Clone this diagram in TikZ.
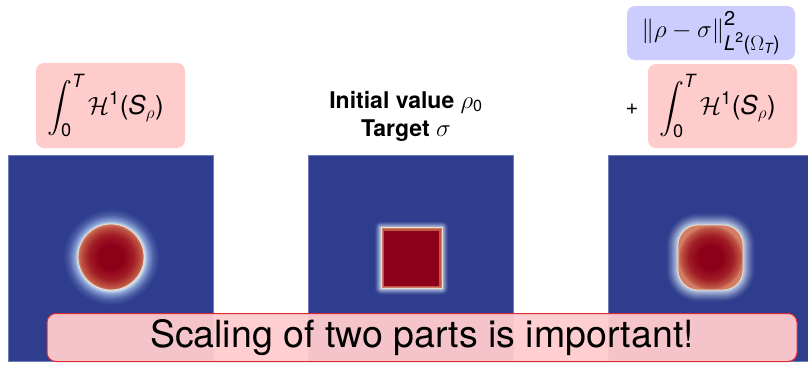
\documentclass[tikz,border=0pt]{standalone}
\usepackage{amsmath}
\usepackage{fontspec}
\setmainfont{TeX Gyre Heros}
\usetikzlibrary{calc}
\definecolor{panelblue}{RGB}{47,61,142}
\definecolor{paneledge}{RGB}{110,125,185}
\definecolor{deepred}{RGB}{140,0,24}
\definecolor{midred}{RGB}{160,28,38}
\definecolor{edgered}{RGB}{190,85,68}
\definecolor{edgered2}{RGB}{210,125,100}
\definecolor{rimwhite}{RGB}{232,222,205}
\definecolor{glowlight}{RGB}{208,220,238}
\definecolor{glowmid}{RGB}{135,160,212}
\definecolor{glowdark}{RGB}{75,92,165}
\definecolor{pinkbox}{RGB}{255,204,204}
\definecolor{bluebox}{RGB}{204,204,255}
\definecolor{bannerred}{RGB}{225,40,50}
\definecolor{bannerfill}{RGB}{255,204,206}
% path edge corresponds to 25bp
\pgfdeclareradialshading{glowshade}{\pgfpoint{0bp}{0bp}}{color(0bp)=(glowlight); color(17.5bp)=(glowlight); color(19bp)=(glowmid); color(22bp)=(glowdark); color(25bp)=(panelblue); color(50bp)=(panelblue)}
\pgfdeclareradialshading{redball}{\pgfpoint{0bp}{0bp}}{color(0bp)=(deepred); color(9bp)=(deepred); color(17bp)=(midred); color(23bp)=(edgered); color(25bp)=(edgered2); color(50bp)=(edgered2)}
\tikzset{
  panel/.style={fill=panelblue, draw=paneledge, line width=0.5pt},
  mathbox/.style={rounded corners=8pt, inner sep=0pt, font=\fontsize{26}{30}\selectfont},
  headtext/.style={align=center, font=\bfseries\fontsize{23}{28}\selectfont},
  banner/.style={draw=bannerred, line width=1pt, fill=bannerfill, fill opacity=0.95, text opacity=1,
    rounded corners=9pt, minimum width=750pt, minimum height=48pt, font=\fontsize{37.5}{42}\selectfont},
  rim/.style={draw=rimwhite, line width=0.8pt}
}
\newcommand{\hterm}{$\displaystyle\int_{\text{0}}^{\textit{T}}\mathcal{H}^{\text{1}}\text{(}\textit{S}_{\rho}\text{)}$\hspace*{10pt}}
\newcommand{\subsz}{\fontsize{20}{22}\selectfont}
\begin{document}
\begin{tikzpicture}[x=1pt,y=-1pt]
\useasboundingbox (0,0) rectangle (808,364);
\fill[white] (0,0) rectangle (808,364);
% panels
\path[panel] (8,155) rectangle (213,361);
\path[panel] (308,155) rectangle (513,361);
\path[panel] (608,155) rectangle (812,361);
% left: circle
\coordinate (cL) at (111,257);
\shade[shading=glowshade] (cL) circle (48);
\shade[shading=redball] (cL) circle (33);
\draw[rim] (cL) circle (33);
% middle: square
\coordinate (cM) at (411.5,258);
\foreach \d in {7,6,...,1}{
  \pgfmathtruncatemacro\p{100*((7-\d)/7)^1.3}
  \fill[glowlight!\p!panelblue, rounded corners=\d pt] ($(cM)+(-30.5-\d,-30.5-\d)$) rectangle ($(cM)+(30.5+\d,30.5+\d)$);
}
\fill[rimwhite] ($(cM)+(-31,-31)$) rectangle ($(cM)+(31,31)$);
\fill[edgered2] ($(cM)+(-30,-30)$) rectangle ($(cM)+(30,30)$);
\fill[edgered] ($(cM)+(-29,-29)$) rectangle ($(cM)+(29,29)$);
\fill[deepred] ($(cM)+(-27.5,-27.5)$) rectangle ($(cM)+(27.5,27.5)$);
% right: rounded square
\coordinate (cR) at (710.5,257.5);
\foreach \d in {13,12,...,1}{
  \pgfmathtruncatemacro\p{100*((13-\d)/13)^1.4}
  \pgfmathsetmacro\rr{20+\d}
  \fill[glowlight!\p!panelblue, rounded corners=\rr pt] ($(cR)+(-32.5-\d,-32.5-\d)$) rectangle ($(cR)+(32.5+\d,32.5+\d)$);
}
\shade[shading=redball, rounded corners=20pt] ($(cR)+(-32.5,-32.5)$) rectangle ($(cR)+(32.5,32.5)$);
\draw[rim, rounded corners=20pt] ($(cR)+(-32.5,-32.5)$) rectangle ($(cR)+(32.5,32.5)$);
% labels
\node[mathbox, fill=pinkbox, minimum width=149pt, minimum height=85pt] (hL) at (110.5,105.5) {\hterm};
\node[headtext] (mid) at (406,116) {Initial value $\rho_{\text{\mdseries 0}}$\\Target $\sigma$};
\node[mathbox, fill=bluebox, minimum width=168pt, minimum height=54pt, font=\fontsize{27}{30}\selectfont] (dist) at (711,33)
  {$\|\rho-\sigma\|^{\raisebox{3pt}{\subsz 2}}_{\text{\subsz\textit{L}$^{\text{2}}$($\Omega_{\textit{T}}$)}}$};
\node[font=\fontsize{22}{26}\selectfont, inner sep=0pt] (plus) at (632,109) {+};
\node[mathbox, fill=pinkbox, minimum width=149pt, minimum height=84pt] (hR) at (722.5,106) {\hterm};
% banner
\node[banner] (msg) at (422,337.5) {Scaling of two parts is important!};
\end{tikzpicture}
\end{document}
